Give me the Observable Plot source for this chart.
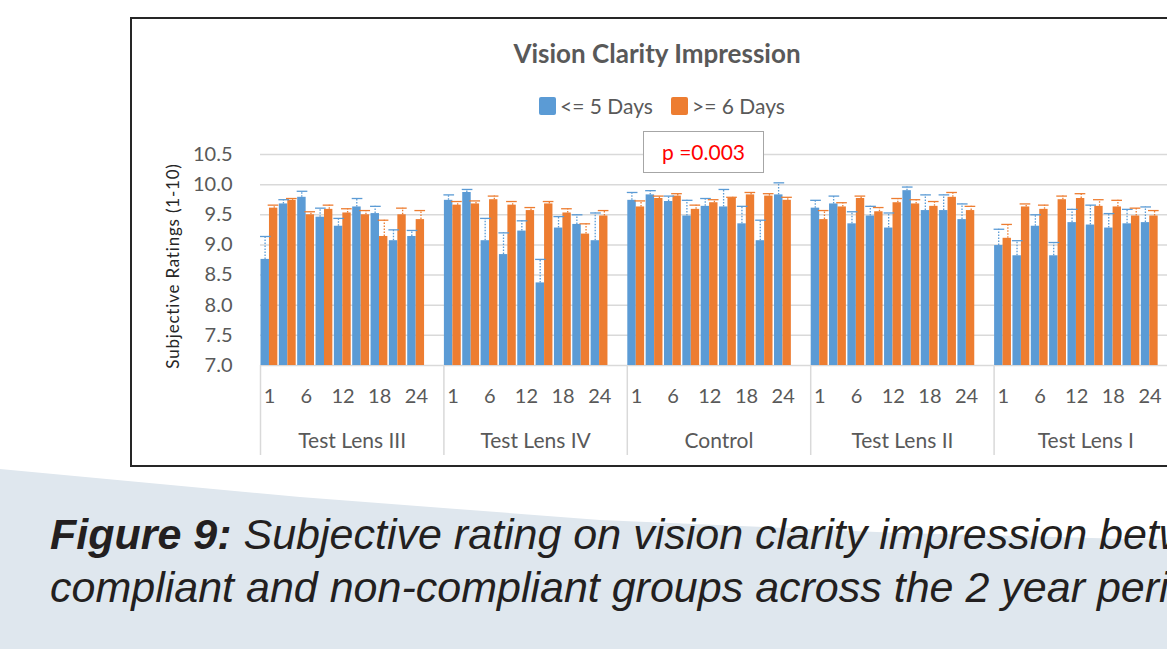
<!DOCTYPE html>
<html>
<head>
<meta charset="utf-8">
<script src="https://cdn.jsdelivr.net/npm/d3@7"></script>
<script src="https://cdn.jsdelivr.net/npm/@observablehq/plot@0.6"></script>
<style>
  html, body { margin: 0; padding: 0; background: #fff; }
  #page { position: relative; width: 1167px; height: 649px; overflow: hidden; background: #fff; }
  #band { position: absolute; left: 0; top: 0; width: 1167px; height: 649px; background: #dfe7ee;
          clip-path: polygon(0 469px, 300px 497px, 600px 520px, 900px 533px, 1167px 540px, 1167px 649px, 0 649px); }
  #frame { position: absolute; left: 130px; top: 17px; width: 1053px; height: 450px; border: 2px solid #262626; box-sizing: border-box; background: #fff; }
  #chart { position: absolute; left: 0; top: 0; }
  .t { position: absolute; font-family: Lato, "Open Sans", sans-serif; white-space: nowrap; line-height: 1; }
  #title { left: 407px; width: 500px; text-align: center; top: 40px; font-size: 26px; font-weight: bold; color: #595959; }
  .sw { position: absolute; width: 17px; height: 18px; border-radius: 2px; }
  #legend1 { left: 560px; top: 95px; font-size: 21px; color: #595959; }
  #legend2 { left: 692px; top: 95px; font-size: 21px; color: #595959; }
  #pbox { position: absolute; left: 643px; top: 131px; width: 121px; height: 42px; border: 1.5px solid #a6a6a6; box-sizing: border-box; background: #fff;
          font-family: Lato, sans-serif; font-size: 21px; color: #ff0000; text-align: center; line-height: 40px; }
  #ylabel { left: 172px; top: 266px; font-size: 17px; color: #262626; transform: translate(-50%, -50%) rotate(-90deg); letter-spacing: 0.8px; }
  #caption { position: absolute; left: 50px; top: 508px; font-family: "Liberation Sans", Arial, sans-serif; font-style: italic;
             font-size: 43px; line-height: 53px; color: #231f20; white-space: nowrap; }
</style>
</head>
<body>
<div id="page">
  <div id="band"></div>
  <div id="frame"></div>
  <div id="chart"></div>
  <div class="t" id="title">Vision Clarity Impression</div>
  <div class="sw" style="left:539px;top:97px;background:#5B9BD5"></div>
  <div class="t" id="legend1">&lt;= 5 Days</div>
  <div class="sw" style="left:671px;top:97px;background:#ED7D31"></div>
  <div class="t" id="legend2">&gt;= 6 Days</div>
  <div id="pbox">p =0.003</div>
  <div class="t" id="ylabel">Subjective Ratings (1-10)</div>
  <div id="caption"><b>Figure 9:</b> Subjective rating on vision clarity impression between<br>compliant and non-compliant groups across the 2 year period.</div>
</div>
<script>
// ---- data ----
const groups = ["Test Lens III", "Test Lens IV", "Control", "Test Lens II", "Test Lens I"];
const visits = ["1", "3", "6", "9", "12", "15", "18", "21", "24", ""];
const tickVisits = ["1", "6", "12", "18", "24"];
const yTicks = [7.0, 7.5, 8.0, 8.5, 9.0, 9.5, 10.0, 10.5];

// <= 5 Days (mean rating per visit, one row per lens group)
const shortMean = [
  [8.76, 9.68, 9.79, 9.46, 9.31, 9.63, 9.52, 9.07, 9.14],
  [9.74, 9.87, 9.07, 8.84, 9.23, 8.37, 9.28, 9.34, 9.07],
  [9.74, 9.83, 9.72, 9.48, 9.64, 9.63, 9.35, 9.07, 9.83],
  [9.61, 9.68, 9.35, 9.48, 9.28, 9.90, 9.57, 9.57, 9.42],
  [8.99, 8.82, 9.31, 8.82, 9.37, 9.33, 9.28, 9.35, 9.37]
];
const shortErr = [
  [0.38, 0.07, 0.10, 0.15, 0.13, 0.14, 0.12, 0.18, 0.10],
  [0.09, 0.05, 0.37, 0.36, 0.17, 0.39, 0.19, 0.16, 0.46],
  [0.13, 0.07, 0.09, 0.26, 0.13, 0.29, 0.29, 0.34, 0.20],
  [0.13, 0.13, 0.20, 0.16, 0.25, 0.06, 0.26, 0.26, 0.26],
  [0.27, 0.25, 0.19, 0.22, 0.22, 0.33, 0.24, 0.24, 0.26]
];
// >= 6 Days
const longMean = [
  [9.61, 9.74, 9.50, 9.59, 9.53, 9.50, 9.14, 9.50, 9.42],
  [9.66, 9.68, 9.75, 9.66, 9.57, 9.68, 9.53, 9.18, 9.48],
  [9.63, 9.77, 9.81, 9.59, 9.70, 9.77, 9.83, 9.81, 9.74],
  [9.42, 9.63, 9.77, 9.55, 9.70, 9.68, 9.64, 9.79, 9.57],
  [9.11, 9.63, 9.59, 9.75, 9.77, 9.64, 9.63, 9.48, 9.48]
];
const longErr = [
  [0.05, 0.03, 0.05, 0.07, 0.07, 0.07, 0.27, 0.11, 0.15],
  [0.06, 0.05, 0.06, 0.06, 0.05, 0.04, 0.07, 0.17, 0.09],
  [0.10, 0.04, 0.04, 0.07, 0.05, 0.02, 0.04, 0.04, 0.05],
  [0.15, 0.07, 0.04, 0.07, 0.07, 0.07, 0.08, 0.08, 0.07],
  [0.23, 0.05, 0.07, 0.06, 0.08, 0.11, 0.11, 0.13, 0.09]
];

const BLUE = "#5B9BD5", ORANGE = "#ED7D31";

// ---- build table ----
const keys = [];
groups.forEach(g => visits.forEach(v => keys.push(g + "|" + v)));
const rows = [];
groups.forEach((g, gi) => {
  shortMean[gi].forEach((s, vi) => {
    rows.push({
      key: g + "|" + visits[vi], group: g, visit: visits[vi],
      short: s, shortTop: s + shortErr[gi][vi],
      long: longMean[gi][vi], longTop: longMean[gi][vi] + longErr[gi][vi]
    });
  });
});
const labelRows = rows.filter(r => tickVisits.includes(r.visit));

const W = 1200, H = 470, ML = 260, MR = 23, MT = 154, MB = 105;
const bw = (W - ML - MR) / keys.length;
const frameH = H - MT - MB;
const yMin = yTicks[0];

const chart = Plot.plot({
  width: W, height: H,
  marginLeft: ML, marginRight: MR, marginTop: MT, marginBottom: MB,
  style: { fontFamily: "Lato, sans-serif", fontSize: "20px", color: "#595959", background: "transparent", maxWidth: "none", overflow: "visible" },
  x: { domain: keys, type: "band", paddingInner: 0, paddingOuter: 0, round: false, axis: null },
  y: { domain: [yTicks[0], yTicks[yTicks.length - 1]], axis: null },
  marks: [
    Plot.gridY(yTicks, { stroke: "#d9d9d9", strokeOpacity: 1, strokeWidth: 1.5 }),
    Plot.axisY({ ticks: yTicks, tickFormat: d3.format(".1f"), tickSize: 0, tickPadding: 28, fontSize: 20, fill: "#595959", label: null }),
    // group separators under the axis
    Plot.ruleX(groups, { x: g => g + "|1", dx: -bw / 2, stroke: "#d9d9d9", strokeWidth: 1.5, insetTop: frameH, insetBottom: -90 }),
    Plot.ruleX([groups[groups.length - 1]], { x: g => g + "|", dx: bw / 2, stroke: "#d9d9d9", strokeWidth: 1.5, insetTop: frameH, insetBottom: -90 }),
    // bars
    Plot.barY(rows, { x: "key", y1: () => yMin, y2: "short", fill: BLUE, insetLeft: 0.5, insetRight: bw / 2 + 0.2 }),
    Plot.barY(rows, { x: "key", y1: () => yMin, y2: "long", fill: ORANGE, insetLeft: bw / 2 - 0.2, insetRight: 1 }),
    // error bars
    Plot.ruleX(rows, { x: "key", y1: "short", y2: "shortTop", dx: -bw / 4, stroke: BLUE, strokeWidth: 1.3, strokeDasharray: "1.5,1.5" }),
    Plot.tickY(rows, { x: "key", y: "shortTop", stroke: BLUE, strokeWidth: 1.3, insetLeft: 0, insetRight: bw / 2 - 1.5 }),
    Plot.ruleX(rows, { x: "key", y1: "long", y2: "longTop", dx: bw / 4, stroke: ORANGE, strokeWidth: 1.3, strokeDasharray: "1.5,1.5" }),
    Plot.tickY(rows, { x: "key", y: "longTop", stroke: ORANGE, strokeWidth: 1.3, insetLeft: bw / 2 - 1.5, insetRight: 0 }),
    // category labels
    Plot.text(labelRows, { x: "key", text: "visit", frameAnchor: "bottom", lineAnchor: "middle", dy: 31, fontSize: 20, fill: "#595959" }),
    Plot.text(groups, { x: g => g + "|15", text: d => d, dx: -bw / 2, frameAnchor: "bottom", lineAnchor: "middle", dy: 76, fontSize: 21, fill: "#595959" })
  ]
});
document.getElementById("chart").appendChild(chart);
</script>
</body>
</html>
